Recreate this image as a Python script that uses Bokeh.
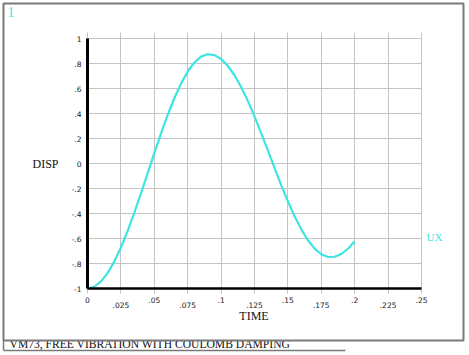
from bokeh.plotting import figure
from bokeh.models import FixedTicker, Label, BoxAnnotation, Arrow, Range1d
from bokeh.embed import file_html
from bokeh.resources import INLINE

# ---- data ----
time = [0.000, 0.005, 0.010, 0.015, 0.020, 0.025, 0.030, 0.035, 0.040, 0.045,
        0.050, 0.055, 0.060, 0.065, 0.070, 0.075, 0.080, 0.085, 0.090, 0.095,
        0.100, 0.105, 0.110, 0.115, 0.120, 0.125, 0.130, 0.135, 0.140, 0.145,
        0.150, 0.155, 0.160, 0.165, 0.170, 0.175, 0.180, 0.185, 0.190, 0.195,
        0.200]
disp = [-1.000, -0.986, -0.945, -0.877, -0.785, -0.672, -0.541, -0.395, -0.240, -0.079,
        0.083, 0.239, 0.388, 0.522, 0.639, 0.736, 0.808, 0.855, 0.874, 0.867,
        0.836, 0.782, 0.706, 0.612, 0.501, 0.377, 0.243, 0.105, -0.035, -0.173,
        -0.303, -0.422, -0.527, -0.614, -0.681, -0.726, -0.748, -0.746, -0.724, -0.682,
        -0.622]

x_ticks = [0, 0.025, 0.05, 0.075, 0.1, 0.125, 0.15, 0.175, 0.2, 0.225, 0.25]
x_tick_labels = ["0", ".025", ".05", ".075", ".1", ".125", ".15", ".175", ".2", ".225", ".25"]
y_ticks = [-1, -0.8, -0.6, -0.4, -0.2, 0, 0.2, 0.4, 0.6, 0.8, 1]
y_tick_labels = ["-1", "-.8", "-.6", "-.4", "-.2", "0", ".2", ".4", ".6", ".8", "1"]

series_name = "UX"
x_title = "TIME"
y_title = "DISP"
window_no = "1"
title_text = "VM73, FREE VIBRATION WITH COULOMB DAMPING"

CYAN = "#3CE4E4"
GRID = "#C4C4C4"
FRAME = "#7A7A7A"
SERIF = "Liberation Serif"
SANS = "DejaVu Sans"

# data window of the whole canvas (the axes are pinned inside it)
X0, X1 = 0.0, 0.25
Y0, Y1 = -1.0, 1.0
p = figure(width=469, height=355,
           x_range=Range1d(-0.06512, 0.28593), y_range=Range1d(-1.536, 1.304),
           output_backend="svg", toolbar_location=None,
           min_border_left=0, min_border_right=0, min_border_top=0, min_border_bottom=0)
p.background_fill_color = "white"
p.border_fill_color = "white"
p.outline_line_color = None

# grid
p.xgrid.ticker = FixedTicker(ticks=x_ticks)
p.ygrid.ticker = FixedTicker(ticks=y_ticks)
p.xgrid.bounds = (X0, X1)
p.xgrid.cross_bounds = (Y0 - 0.04, Y1 + 0.048)
p.ygrid.bounds = (Y0, Y1)
p.ygrid.cross_bounds = (X0, X1)
for g in (p.xgrid[0], p.ygrid[0]):
    g.grid_line_color = GRID
    g.grid_line_width = 1

# x axis (staggered labels via leading newline)
xa = p.xaxis[0]
xa.fixed_location = Y0
xa.bounds = (X0, X1)
xa.ticker = FixedTicker(ticks=x_ticks)
xa.major_label_overrides = {t: (lab if i % 2 == 0 else "\n" + lab)
                            for i, (t, lab) in enumerate(zip(x_ticks, x_tick_labels))}
xa.axis_line_color = "black"
xa.axis_line_width = 2.5
xa.major_tick_line_color = None
xa.major_tick_in = 0
xa.major_tick_out = 0
xa.minor_tick_line_color = None
xa.major_label_standoff = 7
xa.major_label_text_font = SANS
xa.major_label_text_font_size = "7.5px"
xa.major_label_text_line_height = 0.65
xa.major_label_text_color = "#1A1A1A"

# y axis
ya = p.yaxis[0]
ya.fixed_location = X0
ya.bounds = (Y0, Y1)
ya.ticker = FixedTicker(ticks=y_ticks)
ya.major_label_overrides = dict(zip(y_ticks, y_tick_labels))
ya.axis_line_color = "black"
ya.axis_line_width = 3
ya.major_tick_line_color = None
ya.major_tick_in = 0
ya.major_tick_out = 0
ya.minor_tick_line_color = None
ya.major_label_standoff = 6
ya.major_label_text_font = SANS
ya.major_label_text_font_size = "7.5px"
ya.major_label_text_color = "#1A1A1A"

# curve
p.line(time, disp, line_color=CYAN, line_width=2.2)

# texts
p.add_layout(Label(x=-0.04117, y=0.0, text=y_title, text_color="#111111",
                   text_font=SERIF, text_font_size="12px", text_baseline="middle"))
p.add_layout(Label(x=0.12463, y=-1.22, text=x_title, text_color="#111111",
                   text_font=SERIF, text_font_size="12px", text_baseline="middle",
                   text_align="center"))
p.add_layout(Label(x=-0.05988, y=1.256, text=window_no, text_color=CYAN,
                   text_font=SERIF, text_font_size="14px", text_baseline="top"))
p.add_layout(Label(x=0.25374, y=-0.584, text=series_name, text_color=CYAN,
                   text_font=SERIF, text_font_size="11px", text_baseline="middle"))
p.add_layout(Label(x=-0.05838, y=-1.448, text=title_text, text_color="#111111",
                   text_font=SERIF, text_font_size="11.6px", text_baseline="middle"))

# outer frame and title strip lines
p.add_layout(BoxAnnotation(left=-0.06287, right=0.28144, top=1.28, bottom=-1.416,
                           fill_color=None, fill_alpha=0, line_color=FRAME, line_width=2,
                           line_alpha=1))
p.add_layout(Arrow(x_start=-0.06287, y_start=-1.416, x_end=-0.06287, y_end=-1.496,
                   end=None, line_color=FRAME, line_width=1.5))
p.add_layout(Arrow(x_start=-0.06287, y_start=-1.496, x_end=0.1931, y_end=-1.496,
                   end=None, line_color=FRAME, line_width=1.5))

open("out.html", "w").write(file_html(p, INLINE))
